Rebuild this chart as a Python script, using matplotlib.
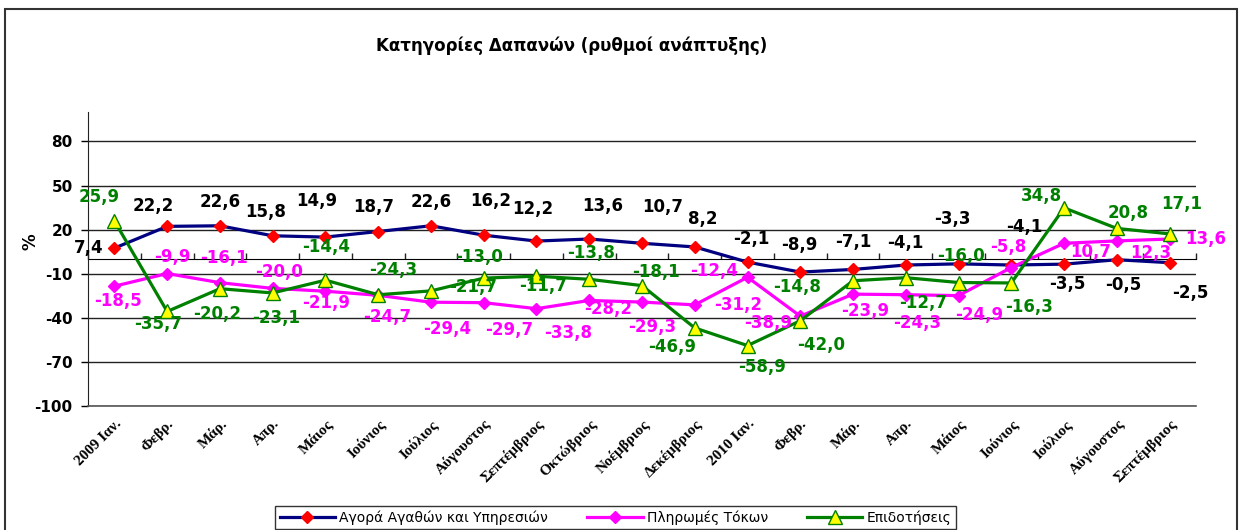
import matplotlib
matplotlib.use('agg')
from matplotlib import pyplot as plt
from matplotlib import patches as pltpatches
import numpy as np

plt.rcParams['axes.unicode_minus'] = False

months = ['2009 Ιαν.', 'Φεβρ.', 'Μάρ.', 'Απρ.', 'Μάιος', 'Ιούνιος', 'Ιούλιος',
          'Αύγουστος', 'Σεπτέμβριος', 'Οκτώβριος', 'Νοέμβριος', 'Δεκέμβριος',
          '2010 Ιαν.', 'Φεβρ.', 'Μάρ.', 'Απρ.', 'Μάιος', 'Ιούνιος', 'Ιούλιος',
          'Αύγουστος', 'Σεπτέμβριος']

agora = [7.4, 22.2, 22.6, 15.8, 14.9, 18.7, 22.6, 16.2, 12.2, 13.6, 10.7, 8.2,
         -2.1, -8.9, -7.1, -4.1, -3.3, -4.1, -3.5, -0.5, -2.5]
tokoi = [-18.5, -9.9, -16.1, -20.0, -21.9, -24.7, -29.4, -29.7, -33.8, -28.2, -29.3, -31.2,
         -12.4, -38.9, -23.9, -24.3, -24.9, -5.8, 10.7, 12.3, 13.6]
epidotiseis = [25.9, -35.7, -20.2, -23.1, -14.4, -24.3, -21.7, -13.0, -11.7, -13.8, -18.1, -46.9,
               -58.9, -42.0, -14.8, -12.7, -16.0, -16.3, 34.8, 20.8, 17.1]

series_names = ['Αγορά Αγαθών και Υπηρεσιών', 'Πληρωμές Τόκων', 'Επιδοτήσεις']
yticks = [-100, -70, -40, -10, 20, 50, 80]

# label offsets in pixels (dx right, dy down)
off_agora = [(-26, 0), (-14, -20), (0, -24), (-7, -24), (-9, -36), (-5, -25), (0, -24),
             (7, -34), (-4, -32), (13, -33), (21, -36), (8, -28), (4, -23), (-1, -27),
             (0, -27), (0, -22), (-6, -45), (13, -38), (3, 20), (6, 25), (21, 30)]
off_tokoi = [(4, 15), (5, -17), (4, -25), (6, -16), (1, 12), (9, 22), (16, 27), (25, 27),
             (32, 24), (19, 9), (10, 25), (43, 0), (-33, -6), (-32, 7), (12, 17), (11, 28),
             (21, 19), (-3, -21), (27, 9), (34, 12), (36, 0)]
off_epid = [(-15, -24), (-9, 13), (-3, 25), (3, 25), (1, -33), (15, -25), (42, -4),
            (-5, -21), (7, 10), (2, -26), (14, -14), (-23, 19), (15, 21), (21, 24),
            (-56, 6), (17, 25), (2, -27), (18, 24), (-23, -12), (11, -15), (12, -30)]

W, H = 1239, 530
fig = plt.figure(figsize=(W / 100, H / 100), dpi=100)
ax = fig.add_axes([88 / W, 1 - 406 / H, (1196 - 88) / W, (406 - 112) / H])

x = np.arange(len(months))

ax.plot(x, agora, color='#000080', lw=2.3, marker='D', ms=6.5,
        mfc='#FF0000', mec='#FF0000', label=series_names[0], zorder=3)
ax.plot(x, tokoi, color='#FF00FF', lw=2.3, marker='D', ms=6.5,
        mfc='#FF00FF', mec='#FF00FF', label=series_names[1], zorder=4)
ax.plot(x, epidotiseis, color='#008000', lw=2.3, marker='^', ms=9.5,
        mfc='#FFFF00', mec='#008000', mew=1, label=series_names[2], zorder=5)


def fmt(v):
    return ('%.1f' % v).replace('.', ',')


for vals, offs, col in [(agora, off_agora, 'black'),
                        (tokoi, off_tokoi, '#FF00FF'),
                        (epidotiseis, off_epid, '#008000')]:
    for i, v in enumerate(vals):
        dx, dy = offs[i]
        ax.annotate(fmt(v), (x[i], v), xytext=(dx, -dy), textcoords='offset pixels',
                    ha='center', va='center', color=col, fontsize=12,
                    fontweight='bold', family='DejaVu Sans', zorder=6)

ax.set_xlim(-0.5, len(months) - 0.5)
ax.set_ylim(-100, 100)
ax.set_yticks(yticks)
ax.set_yticklabels([str(t) for t in yticks], fontsize=11, fontweight='bold')
ax.yaxis.grid(True, color='#222222', lw=1)
ax.set_axisbelow(True)
ax.tick_params(axis='y', length=5, width=1, pad=6)

ax.set_xticks(x)
ax.set_xticklabels(months, rotation=45, ha='right', va='top', rotation_mode='anchor',
                   family='Liberation Serif', fontweight='bold', fontsize=11)
ax.tick_params(axis='x', length=0, pad=8)

for s in ['top', 'right']:
    ax.spines[s].set_visible(False)
ax.spines['left'].set_color('#222222')
ax.spines['bottom'].set_color('#555555')
ax.spines['bottom'].set_linewidth(1.2)

# category axis crossing at zero
zero_ax = ax.secondary_xaxis(0.5)
zero_ax.set_xticks(np.arange(len(months) + 1) - 0.5)
zero_ax.set_xticklabels([])
zero_ax.tick_params(axis='x', direction='out', length=4, width=1, color='#222222')
zero_ax.spines['bottom'].set_color('#111111')
zero_ax.spines['bottom'].set_linewidth(1.3)

fig.text(30 / W, 1 - 242 / H, '%', rotation=90, ha='center', va='center',
         fontsize=12, fontweight='bold')

fig.text(572 / W, 1 - 46 / H, 'Κατηγορίες Δαπανών (ρυθμοί ανάπτυξης)',
         ha='center', va='center', fontsize=12, fontweight='bold')

leg = fig.legend(loc='center', bbox_to_anchor=(615.5 / W, 1 - 517.5 / H), ncol=3,
                 fontsize=10, frameon=True, fancybox=False, handlelength=4,
                 handletextpad=0.3, columnspacing=2.8, borderpad=0.3)
leg.get_frame().set_edgecolor('black')
leg.get_frame().set_linewidth(1)

fig.patches.append(pltpatches.Rectangle((5 / W, -0.02), 1232 / W, 1 - 9 / H + 0.02,
                                        transform=fig.transFigure, fill=False,
                                        edgecolor='#333333', linewidth=1.5))

fig.savefig('out.png', dpi=100)
